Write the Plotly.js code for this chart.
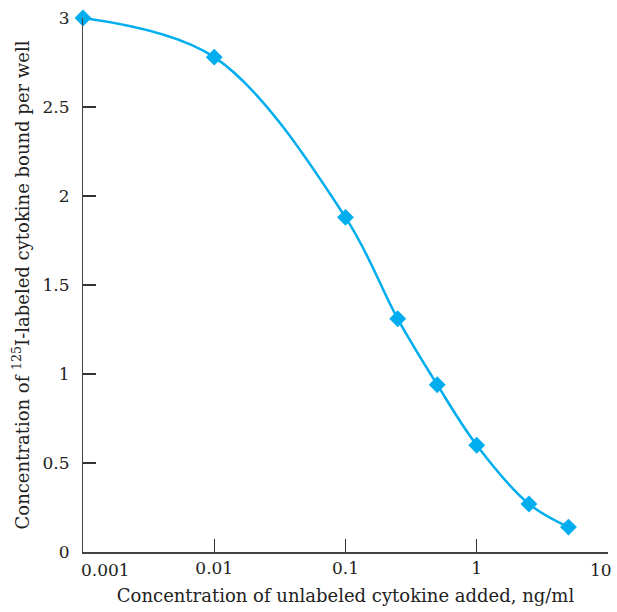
<!DOCTYPE html>
<html>
<head>
<meta charset="utf-8">
<script src="https://cdn.plot.ly/plotly-3.0.1.min.js"></script>
<style>html,body{margin:0;padding:0;background:#fff;}#chart{width:617px;height:612px;}</style>
</head>
<body>
<div id="chart"></div>
<script>
const concentration = [0.001, 0.01, 0.1, 0.25, 0.5, 1, 2.5, 5];
const bound = [3.0, 2.78, 1.88, 1.31, 0.94, 0.60, 0.27, 0.14];
const xTickVals = [0.001, 0.01, 0.1, 1, 10];
const xTickText = ["0.001", "0.01", "0.1", "1", "10"];
const yTickVals = [0, 0.5, 1, 1.5, 2, 2.5, 3];
const yTickText = ["0", "0.5", "1", "1.5", "2", "2.5", "3"];

const FONT = "DejaVu Serif, serif";
const FS = 17;
const TITLE_FS = 18;
const last = xTickText.length - 1;

// end labels are placed as annotations (left/right aligned, as in the reference)
const xTickShown = xTickText.map((t, i) => (i === 0 || i === last) ? "" : t);

const trace = {
  x: concentration,
  y: bound,
  type: "scatter",
  mode: "lines+markers",
  line: {color: "#00AEEF", width: 2.5, shape: "spline", smoothing: 1},
  marker: {symbol: "diamond", size: 13, color: "#00AEEF"},
  cliponaxis: false,
  hoverinfo: "x+y"
};
const layout = {
  width: 617, height: 612,
  margin: {l: 83, r: 9, t: 18, b: 60},
  paper_bgcolor: "#fff", plot_bgcolor: "#fff",
  showlegend: false,
  font: {family: FONT, size: FS, color: "#222"},
  xaxis: {
    type: "log", range: [-3, 1.0002],
    tickmode: "array",
    tickvals: xTickVals, ticktext: xTickShown,
    ticks: "inside", ticklen: 13, tickwidth: 1.4, tickcolor: "#333",
    showline: true, linecolor: "#444", linewidth: 1.5,
    showgrid: false, zeroline: false,
    tickfont: {family: FONT, size: FS, color: "#222"},
    title: {text: "Concentration of unlabeled cytokine added, ng/ml", font: {family: FONT, size: TITLE_FS, color: "#222"}, standoff: 12}
  },
  yaxis: {
    range: [0, 3],
    tickmode: "array",
    tickvals: yTickVals, ticktext: yTickText.map(t => t + "\u2002"),
    ticks: "inside", ticklen: 13, tickwidth: 1.4, tickcolor: "#333",
    showline: true, linecolor: "#444", linewidth: 1.5,
    showgrid: false, zeroline: false,
    tickfont: {family: FONT, size: FS, color: "#222"},
    title: {text: "Concentration of <sup>125</sup>I-labeled cytokine bound per well", font: {family: FONT, size: TITLE_FS, color: "#222"}, standoff: 8}
  },
  annotations: [
    {
      xref: "x", yref: "paper", x: Math.log10(xTickVals[0]), y: 0,
      text: xTickText[0], showarrow: false, xanchor: "left", yanchor: "top",
      xshift: -4, yshift: -6,
      font: {family: FONT, size: FS, color: "#222"}
    },
    {
      xref: "x", yref: "paper", x: Math.log10(xTickVals[last]), y: 0,
      text: xTickText[last], showarrow: false, xanchor: "right", yanchor: "top",
      xshift: 6, yshift: -6,
      font: {family: FONT, size: FS, color: "#222"}
    }
  ]
};
Plotly.newPlot("chart", [trace], layout, {displayModeBar: false, staticPlot: true});
</script>
</body>
</html>
